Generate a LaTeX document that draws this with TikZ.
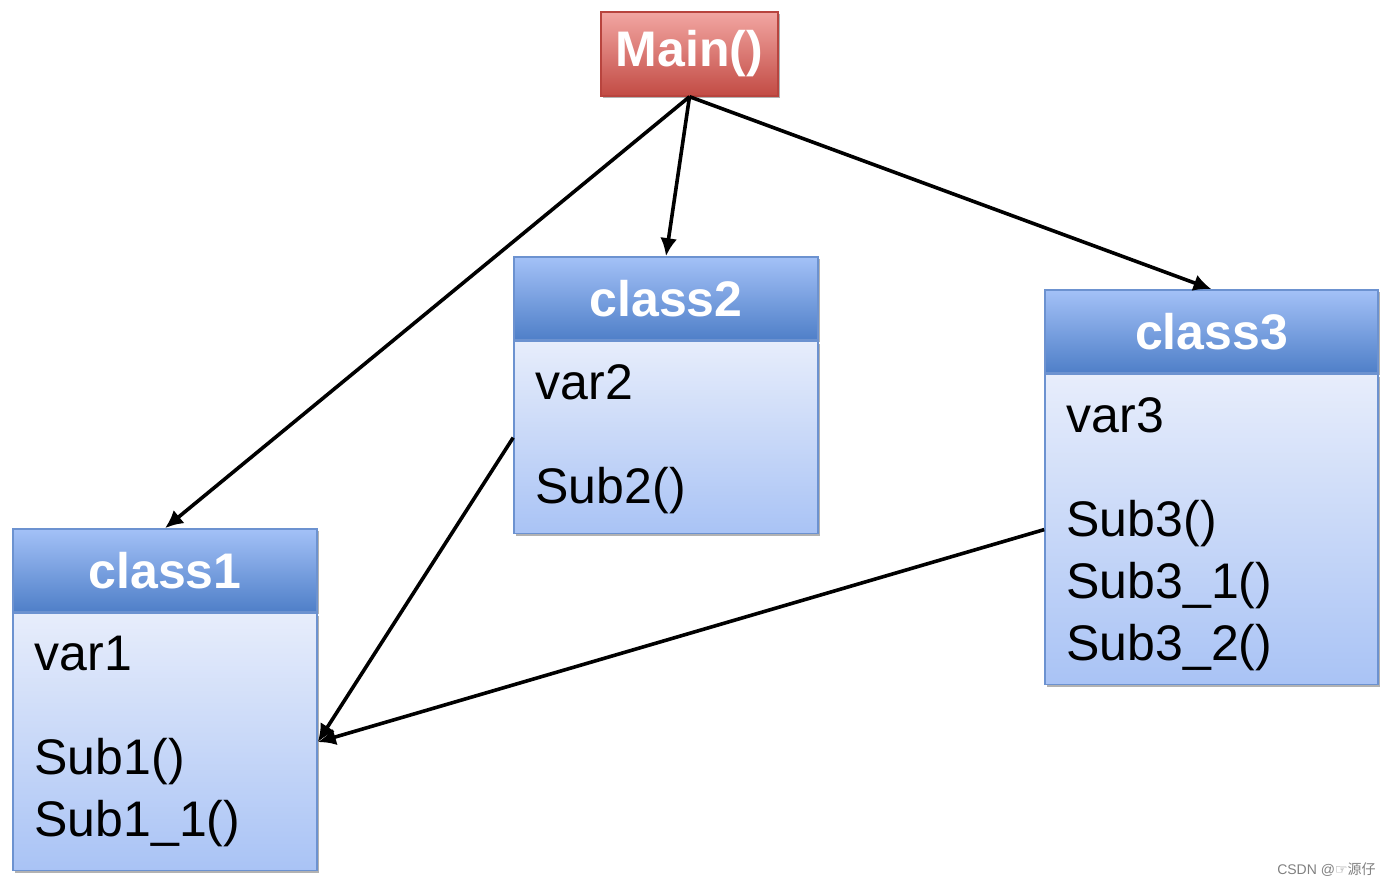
\documentclass[tikz,border=0pt]{standalone}
\usepackage{fontspec}
\setmainfont{Liberation Sans}
\newfontfamily\cjkfont{Noto Sans CJK SC}
\newfontfamily\symfont{DejaVu Sans}
\usepackage{tikz}
\usetikzlibrary{arrows.meta,positioning,shadows}
\usepackage{xcolor}
\definecolor{mainTop}{HTML}{F2A6A2}
\definecolor{mainBot}{HTML}{C24B44}
\definecolor{mainLine}{HTML}{B8443E}
\definecolor{headTop}{HTML}{A3C1F7}
\definecolor{headBot}{HTML}{4F7FC8}
\definecolor{bodyTop}{HTML}{E7EDFB}
\definecolor{bodyBot}{HTML}{A9C3F5}
\definecolor{boxLine}{HTML}{6C92D0}

\begin{document}
\begin{tikzpicture}[x=0.5pt,y=-0.5pt,
  boxshadow/.style={drop shadow={shadow xshift=1.2pt,shadow yshift=-1.2pt,opacity=0.3,fill=black}},
  mainbox/.style={draw=mainLine,line width=0.7pt,top color=mainTop,bottom color=mainBot,
    text=white,font=\fontsize{25}{30}\selectfont\bfseries,
    minimum width=88.5pt,minimum height=42pt,inner sep=0pt,boxshadow},
  classhead/.style={draw=boxLine,line width=0.8pt,top color=headTop,bottom color=headBot,
    text=white,font=\fontsize{25}{30}\selectfont\bfseries,
    minimum height=41.5pt,inner sep=0pt,boxshadow},
  classbody/.style={draw=boxLine,line width=0.8pt,top color=bodyTop,bottom color=bodyBot,
    inner sep=0pt,boxshadow},
  members/.style={anchor=north west,inner sep=0pt,align=left,font=\fontsize{25}{31}\selectfont},
  link/.style={-{Latex[length=9pt,width=8.5pt]},line width=1.8pt}]
\useasboundingbox (0,0) rectangle (1390,886);

\node[mainbox] (main) at (689.5,54) {Main()};

\node[classhead,minimum width=152pt] (c1head) at (165,570.5) {class1};
\node[classbody,minimum width=152pt,minimum height=128.5pt,below=0pt of c1head] (c1body) {};
\node[members] (c1text) at ([xshift=11pt,yshift=-11.5pt]c1body.north west) {var1\\[21pt]Sub1()\\Sub1\_1()};

\node[classhead,minimum width=152pt] (c2head) at (666,298.5) {class2};
\node[classbody,minimum width=152pt,minimum height=96pt,below=0pt of c2head] (c2body) {};
\node[members] (c2text) at ([xshift=11pt,yshift=-11.5pt]c2body.north west) {var2\\[21pt]Sub2()};

\node[classhead,minimum width=166.5pt] (c3head) at (1211.5,331.5) {class3};
\node[classbody,minimum width=166.5pt,minimum height=155pt,below=0pt of c3head] (c3body) {};
\node[members] (c3text) at ([xshift=11pt,yshift=-11.5pt]c3body.north west) {var3\\[21pt]Sub3()\\Sub3\_1()\\Sub3\_2()};

\draw[link] (main.south) -- (c1head.north);
\draw[link] (main.south) -- (c2head.north);
\draw[link] (main.south) -- (c3head.north);
\draw[link] (c2body.west) -- (c1body.east);
\draw[link] (c3body.west) -- (c1body.east);

\node[anchor=east,inner sep=0pt,text=gray,font=\fontsize{7}{8}\selectfont] (mark) at (1376,870) {CSDN @{\symfont ☞}{\cjkfont 源仔}};
\end{tikzpicture}
\end{document}
